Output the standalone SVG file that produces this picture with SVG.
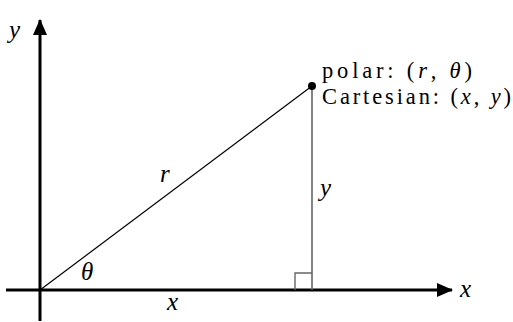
<svg xmlns="http://www.w3.org/2000/svg" width="513" height="322" viewBox="0 0 513 322">
<style>
text{font-family:"Liberation Serif","Times New Roman",serif;font-size:25px;fill:#000}
.lbl{font-size:22.5px}
.it{font-style:italic}
.axis{stroke:#000;stroke-width:3;fill:none}
</style>
<defs>
<marker id="ah" markerUnits="userSpaceOnUse" markerWidth="16" markerHeight="14" refX="15" refY="7" orient="auto">
<path d="M0,0 L16,7 L0,14 Z" fill="#000"/>
</marker>
</defs>
<rect width="513" height="322" fill="#fff"/>
<g id="connectors">
<line class="axis" x1="6" y1="290" x2="452" y2="290" marker-end="url(#ah)"/>
<line class="axis" x1="40" y1="321" x2="40" y2="20" marker-end="url(#ah)"/>
<line x1="40" y1="290" x2="312" y2="86" stroke="#000" stroke-width="1.2"/>
<line x1="312" y1="86" x2="312" y2="290" stroke="#666" stroke-width="1.6"/>
<path d="M295,290 V273 H312" fill="none" stroke="#666" stroke-width="1.4"/>
</g>
<g id="point">
<circle cx="312" cy="86" r="4" fill="#000"/>
<text class="lbl" x="322" y="78" textLength="150" lengthAdjust="spacing">polar: (<tspan class="it">r</tspan>, <tspan class="it">θ</tspan>)</text>
<text class="lbl" x="322" y="104" textLength="189" lengthAdjust="spacing">Cartesian: (<tspan class="it">x</tspan>, <tspan class="it">y</tspan>)</text>
</g>
<g id="labels">
<text class="it" x="9" y="38">y</text>
<text class="it" x="460" y="297">x</text>
<text class="it" x="160" y="182">r</text>
<text class="it" x="320" y="196">y</text>
<text class="it" x="81" y="280">θ</text>
<text class="it" x="167" y="310">x</text>
</g>
</svg>
